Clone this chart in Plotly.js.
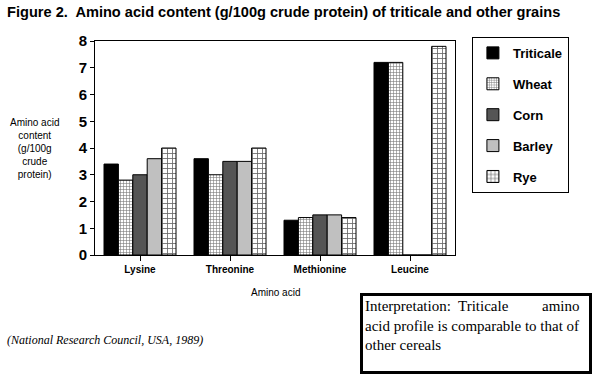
<!DOCTYPE html>
<html><head><meta charset="utf-8">
<script src="https://cdn.plot.ly/plotly-3.0.1.min.js"></script>
<style>html,body{margin:0;padding:0;background:#fff}</style>
</head><body>
<div id="chart" style="width:596px;height:377px"></div>
<script>
const categories = ["Lysine", "Threonine", "Methionine", "Leucine"];
const triticale = [3.4, 3.6, 1.3, 7.2];
const wheat     = [2.8, 3.0, 1.4, 7.2];
const corn      = [3.0, 3.5, 1.5, 0];
const barley    = [3.6, 3.5, 1.5, 0];
const rye       = [4.0, 4.0, 1.4, 7.8];
const yTicks = [0,1,2,3,4,5,6,7,8];

function tr(name, y, color, pattern, group) {
  const m = {color: color, line: {color: '#000', width: 1}};
  if (pattern) m.pattern = pattern;
  return {type: 'bar', name: name, x: categories, y: y, marker: m, legendgroup: group};
}
const data = [
  tr('Triticale', triticale, '#000000', null, 'a'),
  tr('Wheat', wheat, '#ffffff', {shape: '+', size: 3, solidity: 0.35, fgcolor: '#777', bgcolor: '#fff'}, 'b'),
  tr('Corn', corn, '#555555', null, 'c'),
  tr('Barley', barley, '#c0c0c0', null, 'd'),
  tr('Rye', rye, '#ffffff', {shape: '+', size: 5, solidity: 0.3, fgcolor: '#666', bgcolor: '#fff'}, 'e')
];

const layout = {
  width: 596, height: 377,
  margin: {l: 95, r: 141, t: 41, b: 122},
  paper_bgcolor: '#fff', plot_bgcolor: '#fff',
  barmode: 'group', bargap: 0.2, bargroupgap: 0,
  font: {family: 'Liberation Sans, Arial, sans-serif', color: '#000'},
  xaxis: {
    showline: true, linecolor: '#000', linewidth: 1, mirror: true,
    ticks: 'outside', ticklen: 5, tickcolor: '#000',
    tickfont: {size: 10, family: 'Liberation Sans', weight: 'bold'},
    showgrid: false
  },
  yaxis: {
    range: [0, 8], tickvals: yTicks,
    showline: true, linecolor: '#000', linewidth: 1, mirror: true,
    ticks: 'outside', ticklen: 4, tickcolor: '#000',
    tickfont: {size: 15, family: 'Liberation Sans', weight: 'bold'},
    showgrid: false, zeroline: false
  },
  showlegend: true,
  legend: {
    x: 1.047, y: 1.019, xanchor: 'left', yanchor: 'top',
    bordercolor: '#000', borderwidth: 1, bgcolor: '#fff',
    font: {size: 13, family: 'Liberation Sans', weight: 'bold'},
    traceorder: 'grouped', tracegroupgap: 11, itemwidth: 30
  },
  annotations: [
    {xref: 'paper', yref: 'paper', x: -0.25, y: 1.136, xanchor: 'left', yanchor: 'middle', showarrow: false,
     text: '<b>Figure 2.  Amino acid content (g/100g crude protein) of triticale and other grains</b>',
     font: {size: 14.6, family: 'Liberation Sans'}},
    {xref: 'paper', yref: 'paper', x: -0.167, y: 0.5, xanchor: 'center', yanchor: 'middle', showarrow: false,
     text: 'Amino acid<br>content<br>(g/100g<br>crude<br>protein)', align: 'center',
     font: {size: 10, family: 'Liberation Sans'}},
    {xref: 'paper', yref: 'paper', x: 0.5, y: -0.173, xanchor: 'center', yanchor: 'middle', showarrow: false,
     text: 'Amino acid', font: {size: 10, family: 'Liberation Sans'}},
    {xref: 'paper', yref: 'paper', x: -0.25, y: -0.397, xanchor: 'left', yanchor: 'middle', showarrow: false,
     text: '<i>(National Research Council, USA, 1989)</i>', font: {size: 12, family: 'Liberation Serif'}},
    {xref: 'paper', yref: 'paper', x: 0.736, y: -0.1776, xanchor: 'left', yanchor: 'top', showarrow: false,
     width: 222, height: 71, align: 'left', valign: 'top',
     bordercolor: '#000', borderwidth: 3, borderpad: 2, bgcolor: '#fff',
     text: 'Interpretation:  Triticale         amino<br>acid profile is comparable to that of<br>other cereals',
     font: {size: 15, family: 'Liberation Serif'}}
  ]
};
Plotly.newPlot('chart', data, layout, {displayModeBar: false, staticPlot: true});
</script>
</body></html>
